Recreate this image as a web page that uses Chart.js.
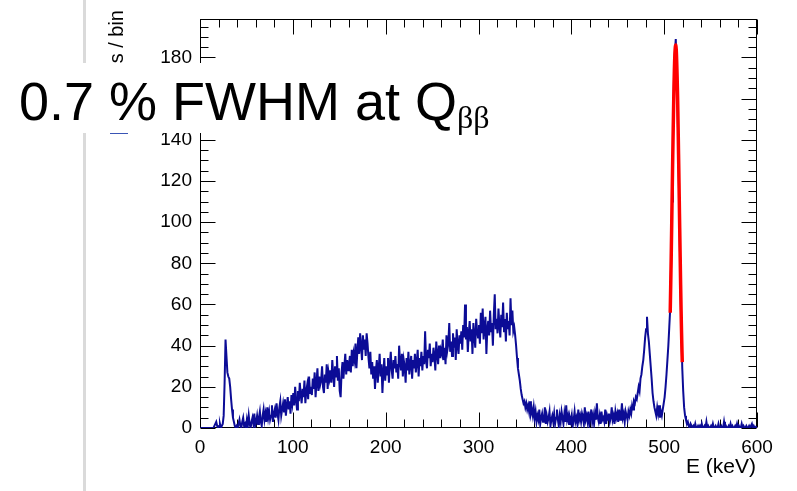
<!DOCTYPE html>
<html>
<head>
<meta charset="utf-8">
<script src="https://cdn.jsdelivr.net/npm/chart.js@4.4.1/dist/chart.umd.min.js"></script>
<style>
  html, body { margin:0; padding:0; background:#fff; }
  #wrap { position:relative; width:797px; height:491px; overflow:hidden; }
  canvas { position:absolute; left:0; top:0; }
  .vline { position:absolute; left:83px; top:0; width:3px; height:491px; background:#dadada; }
  .ytitle { position:absolute; left:105px; top:210px; width:200px; height:22px; line-height:22px;
            text-align:right; white-space:nowrap; font-family:"Liberation Sans", Arial, sans-serif;
            font-size:20px; color:#000; transform-origin:0 0; transform:rotate(-90deg); }
  .xtitle { position:absolute; left:556px; top:455px; width:200px; height:21px; line-height:21px;
            text-align:right; white-space:nowrap; font-family:"Liberation Sans", Arial, sans-serif;
            font-size:21px; color:#000; }
  .note { position:absolute; left:0; top:63px; width:495px; height:70px; background:#fff; }
  .notetext { position:absolute; left:19px; top:74px; line-height:54px; white-space:nowrap;
              font-family:"Liberation Sans", Arial, sans-serif; font-size:54px; color:#000; }
  .notetext .sub { font-family:"Liberation Serif", "Times New Roman", serif; font-size:32px; vertical-align:-8px; }
  .legline { position:absolute; left:110px; top:132px; width:18px; height:2px; background:#3a55b5; }
</style>
</head>
<body>
<div id="wrap">
  <canvas id="c" width="797" height="491"></canvas>
  <div class="vline"></div>
  <div class="ytitle">Counts / bin</div>
  <div class="xtitle">E (keV)</div>
  <div class="legline"></div>
  <div class="note"></div>
  <div class="notetext">0.7 % FWHM at Q<span class="sub">ββ</span></div>
</div>
<script>
// ---- data (1 keV bins, 0–600 keV) ----
const binWidth = 1; // keV
const counts = [
  0,0,0,0,0,0,0,0,0,0,
  0,0,0,0,0,1,2,3,1,0,
  1,2,0,1,2,6,22,43,35,27,
  25,24,20,14,9,5,3,1,0,1,
  0,2,4,1,0,3,5,1,2,0,
  4,1,6,2,0,3,5,2,7,1,
  3,6,2,5,8,3,1,6,9,4,
  7,3,10,5,8,4,6,11,3,7,
  9,5,12,7,4,10,13,6,9,12,
  8,14,6,11,15,9,13,7,16,12,
  17,11,20,14,9,18,13,22,16,12,
  19,15,23,12,18,21,14,25,17,20,
  16,24,19,27,15,22,29,18,25,21,
  23,30,20,17,26,22,31,19,27,24,
  28,22,33,26,20,30,25,35,23,29,
  18,15,27,32,24,30,36,26,33,28,
  31,35,27,38,30,36,33,41,29,37,
  44,36,46,40,33,45,38,43,35,46,
  41,34,29,37,26,32,24,30,19,28,
  33,22,29,36,25,31,17,27,34,23,
  30,26,34,22,31,37,28,24,33,29,
  35,27,31,24,40,32,28,36,25,33,
  30,22,34,28,37,26,31,35,24,33,
  29,36,27,32,38,25,34,30,37,28,
  35,31,47,33,29,38,34,41,30,36,
  32,39,35,28,42,36,31,40,34,38,
  36,43,33,39,31,45,38,41,51,37,
  42,35,46,39,44,33,48,40,36,45,
  41,47,38,50,44,60,43,49,37,46,
  52,42,48,36,51,45,39,53,47,44,
  50,41,56,46,58,43,49,54,36,48,
  52,45,57,47,51,40,55,65,48,53,
  46,58,50,44,55,49,61,47,53,42,
  56,48,52,45,63,50,57,47,49,45,
  40,34,29,26,23,19,16,14,12,13,
  10,12,9,11,8,13,7,9,6,10,
  5,8,3,6,4,9,2,5,7,3,
  4,10,2,6,3,5,8,1,4,6,
  3,7,2,5,9,4,1,6,3,8,
  5,2,7,3,11,4,6,2,5,3,
  6,1,4,8,3,5,2,9,4,6,
  3,7,5,2,10,4,6,3,8,2,
  5,9,3,6,2,7,4,12,5,3,
  6,2,8,4,5,3,9,2,6,4,
  7,3,5,10,4,6,2,8,5,7,
  3,9,4,6,12,5,7,3,8,6,
  4,8,6,9,7,11,9,13,12,15,
  14,17,20,18,24,26,30,33,38,44,
  48,54,46,42,36,30,24,17,13,10,
  8,6,10,7,11,5,8,6,9,12,
  15,20,26,33,40,49,58,80,110,140,
  168,182,189,170,155,130,100,72,48,29,
  18,10,6,4,2,3,1,0,2,1,
  0,1,0,2,0,0,1,0,1,0,
  2,0,0,1,0,3,0,1,0,0,
  1,0,2,0,0,1,0,0,2,0,
  0,1,0,0,3,0,1,0,0,1,
  0,2,0,1,0,0,1,0,2,0,
  1,0,0,2,0,1,0,0,1,0,
  0,1,0,0,2,0,1,0,0,1
];
// Gaussian fit around the 512 keV line
const fitE = [506.5,507,507.5,508,508.5,509,509.5,510,510.5,511,511.5,512,512.5,513,513.5,514,514.5,515,515.5,516,516.5,517,517.5,518,518.5,519,519.5];
const fitY = [56,68,81,95,110,125,139,152,164,174,181,185,186,184,178,170,160,147,133,119,104,90,76,63,51,41,32];
const xTickLabels = [0,100,200,300,400,500,600];
const yTickLabels = [0,20,40,60,80,100,120,140,160,180];

const binCenters = counts.map((_, i) => i * binWidth + binWidth / 2);
const histPoints = binCenters.map((e, i) => ({ x: e, y: counts[i] }));
const fitPoints = fitE.map((e, i) => ({ x: e, y: fitY[i] }));

const FONT = '"Liberation Sans", Arial, sans-serif';

const frameTicks = {
  id: 'frameTicks',
  beforeDatasetsDraw(chart) {
    const { ctx, chartArea: { left, right, top, bottom }, scales: { x, y } } = chart;
    const L = Math.round(left) + 0.5, R = Math.round(right) - 0.5;
    const T = Math.round(top) + 0.5, B = Math.round(bottom) - 0.5;
    ctx.save();
    ctx.strokeStyle = '#000';
    ctx.lineWidth = 1;
    ctx.beginPath();
    for (let v = 0; v <= 600; v += 20) {
      const px = Math.round(x.getPixelForValue(v)) + 0.5;
      const len = (v % 100 === 0) ? 15 : 8;
      ctx.moveTo(px, B); ctx.lineTo(px, B - len);
      ctx.moveTo(px, T); ctx.lineTo(px, T + len);
    }
    for (let v = 0; v <= y.max; v += 5) {
      const py = Math.round(y.getPixelForValue(v)) + 0.5;
      const len = (v % 20 === 0) ? 15 : 8;
      ctx.moveTo(L, py); ctx.lineTo(L + len, py);
      ctx.moveTo(R, py); ctx.lineTo(R - len, py);
    }
    ctx.stroke();
    ctx.strokeRect(L, T, R - L, B - T);
    ctx.restore();
  }
};

new Chart(document.getElementById('c'), {
  type: 'line',
  data: {
    datasets: [
      { data: fitPoints, borderColor: 'rgb(255,0,0)', borderWidth: 3.5, pointRadius: 0,
        tension: 0.3, fill: false },
      { data: histPoints, borderColor: 'rgb(12,12,150)', borderWidth: 2, pointRadius: 0,
        tension: 0, fill: false }
    ]
  },
  options: {
    responsive: false,
    animation: false,
    devicePixelRatio: 1,
    layout: { padding: { left: 0, top: 13, right: 40, bottom: 0 } },
    plugins: { legend: { display: false }, tooltip: { enabled: false } },
    scales: {
      x: {
        type: 'linear', min: 0, max: 600,
        grid: { display: false, drawTicks: false },
        border: { display: false },
        afterBuildTicks: s => { s.ticks = xTickLabels.map(v => ({ value: v })); },
        afterFit: s => { s.height = 63; },
        ticks: { padding: 8, maxRotation: 0, autoSkip: false, color: '#000',
                 font: { family: FONT, size: 19 }, callback: v => String(v) }
      },
      y: {
        type: 'linear', min: 0, max: 198.5,
        grid: { display: false, drawTicks: false },
        border: { display: false },
        afterBuildTicks: s => { s.ticks = yTickLabels.map(v => ({ value: v })); },
        afterFit: s => { s.width = 200; },
        ticks: { padding: 8, autoSkip: false, color: '#000',
                 font: { family: FONT, size: 19 }, callback: v => String(v) }
      }
    }
  },
  plugins: [frameTicks]
});
</script>
</body>
</html>
